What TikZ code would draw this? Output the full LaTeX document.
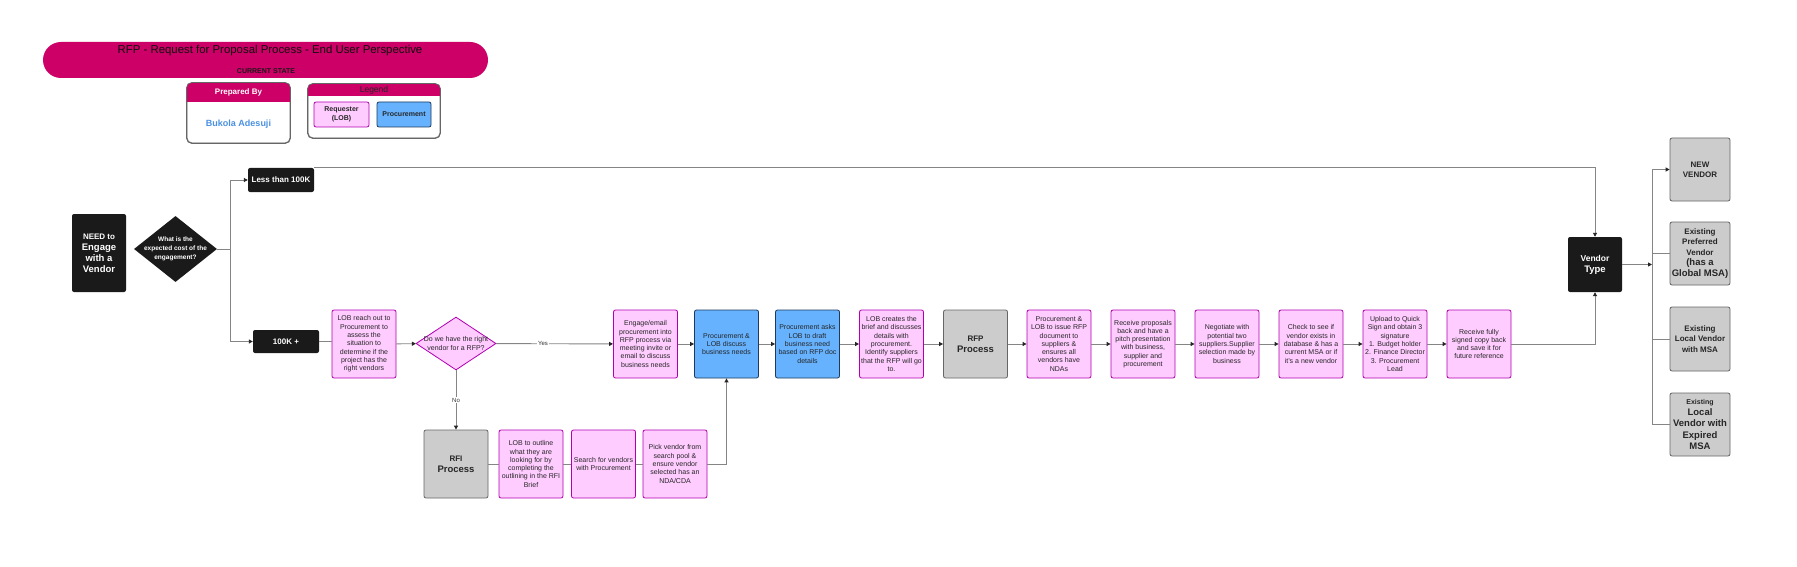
\documentclass[tikz,border=0pt]{standalone}
\usepackage{fontspec}
\setmainfont{Liberation Sans}
\usetikzlibrary{shapes.geometric,arrows.meta}
\definecolor{lobfill}{HTML}{FFCCFF}
\definecolor{lobline}{HTML}{B000B0}
\definecolor{procfill}{HTML}{66B2FF}
\definecolor{procline}{HTML}{1F3A5F}
\definecolor{grayfill}{HTML}{CCCCCC}
\definecolor{grayline}{HTML}{666666}
\definecolor{darkfill}{HTML}{1A1A1A}
\definecolor{banner}{HTML}{CC0066}
\definecolor{wire}{HTML}{858585}
\definecolor{namecol}{HTML}{4A90E2}
\begin{document}
\begin{tikzpicture}[x=1pt,y=-1pt,
 box/.style={rectangle,rounded corners=2pt,line width=0.8pt,minimum width=64pt,minimum height=68pt,inner sep=1pt,align=center,text=black!85,font=\fontsize{7}{8.3}\selectfont},
 lob/.style={box,draw=lobline,fill=lobfill},
 proc/.style={box,draw=procline,fill=procfill},
 gbox/.style={box,draw=grayline,fill=grayfill},
 dark/.style={rectangle,rounded corners=2pt,fill=darkfill,text=white,align=center,font=\bfseries\fontsize{8}{10}\selectfont},
 card/.style={rectangle,rounded corners=5pt,draw=black!60,fill=white,line width=0.8pt},
 conn/.style={draw=wire,line width=0.9pt},
 arr/.style={conn,-{Triangle[length=4pt,width=4pt,color=black!85]}},
 yesno/.style={fill=white,inner sep=1pt,font=\fontsize{6}{7}\selectfont,text=black!80}]
 \useasboundingbox[fill=white] (0,0) rectangle (1797,567);
 % header
 \node (title) at (265.5,60) [rectangle,rounded corners=18pt,fill=banner,minimum width=445pt,minimum height=36pt] {};
 \node (titletext) at (270,51) [text=black!95,font=\fontsize{11.4}{13}\selectfont] {RFP - Request for Proposal Process - End User Perspective};
 \node (state) at (266,71) [text=black!90,font=\bfseries\fontsize{7}{8}\selectfont] {CURRENT STATE};
 \node (prep) at (238.5,113) [card,minimum width=103pt,minimum height=60pt] {};
 \begin{scope}
 \clip[rounded corners=5pt] (prep.north west) rectangle (prep.south east);
 \fill[banner] (prep.north west) rectangle ([yshift=-19pt]prep.north east);
 \end{scope}
 \draw[black!60,line width=0.8pt,rounded corners=5pt] (prep.north west) rectangle (prep.south east);
 \node (prephead) at (238.5,92.5) [text=white,font=\bfseries\fontsize{8}{9}\selectfont] {Prepared By};
 \node (author) at (238.5,124) [text=namecol,font=\bfseries\fontsize{9}{10}\selectfont] {Bukola Adesuji};
 \node (legend) at (374,111) [card,minimum width=132pt,minimum height=54pt] {};
 \begin{scope}
 \clip[rounded corners=5pt] (legend.north west) rectangle (legend.south east);
 \fill[banner] (legend.north west) rectangle ([yshift=-12pt]legend.north east);
 \end{scope}
 \draw[black!60,line width=0.8pt,rounded corners=5pt] (legend.north west) rectangle (legend.south east);
 \node (legendhead) at (374,90) [text=black!85,font=\fontsize{8.5}{9}\selectfont] {Legend};
 \node (key lob) at (341.5,114.5) [lob,minimum width=55pt,minimum height=25pt,font=\bfseries\fontsize{7}{8.5}\selectfont] {Requester\\(LOB)};
 \node (key proc) at (404,114.5) [proc,minimum width=54pt,minimum height=25pt,font=\bfseries\fontsize{7}{8}\selectfont] {Procurement};
 % start and cost split
 \node (need) at (99,253) [dark,minimum width=54pt,minimum height=78pt,font=\bfseries\fontsize{9.5}{11}\selectfont] {\fontsize{8}{11}\selectfont NEED to\\Engage\\with a\\Vendor};
 \node (cost) at (175.5,249) [diamond,fill=darkfill,minimum width=83pt,minimum height=66pt,inner sep=0pt,label={[text=white,align=center,font=\bfseries\fontsize{6.5}{8.7}\selectfont]center:What is the\\expected cost of the\\engagement?}] {};
 \node (lt100) at (281,180) [dark,minimum width=66pt,minimum height=24pt] {Less than 100K};
 \node (gt100) at (286,341.5) [dark,minimum width=66pt,minimum height=23pt] {100K +};
 \node (reach) at (364,344) [lob] {LOB reach out to\\Procurement to\\assess the\\situation to\\determine if the\\project has the\\right vendors};
 \node (rightv) at (456,343.5) [diamond,draw=lobline,fill=lobfill,line width=0.8pt,minimum width=80pt,minimum height=53pt,inner sep=0pt,label={[text=black!85,align=center,font=\fontsize{7}{9.5}\selectfont]center:Do we have the right\\vendor for a RFP?}] {};
 % RFP row
 \node (main 1) at (645.5,344) [lob] {Engage/email\\procurement into\\RFP process via\\meeting invite or\\email to discuss\\business needs};
 \node (main 2) at (726.5,344) [proc] {Procurement \&\\LOB discuss\\business needs};
 \node (main 3) at (807.5,344) [proc] {Procurement asks\\LOB to draft\\business need\\based on RFP doc\\details};
 \node (main 4) at (891.5,344) [lob] {LOB creates the\\brief and discusses\\details with\\procurement.\\Identify suppliers\\that the RFP will go\\to.};
 \node (main 5) at (975.5,344) [gbox,font=\bfseries\fontsize{9.5}{11}\selectfont] {\fontsize{8}{11}\selectfont RFP\\Process};
 \node (main 6) at (1059,344) [lob] {Procurement \&\\LOB to issue RFP\\document to\\suppliers \&\\ensures all\\vendors have\\NDAs};
 \node (main 7) at (1143,344) [lob] {Receive proposals\\back and have a\\pitch presentation\\with business,\\supplier and\\procurement};
 \node (main 8) at (1227,344) [lob] {Negotiate with\\potential two\\suppliers.Supplier\\selection made by\\business};
 \node (main 9) at (1311,344) [lob] {Check to see if\\vendor exists in\\database \& has a\\current MSA or if\\it's a new vendor};
 \node (main 10) at (1395,344) [lob] {Upload to Quick\\Sign and obtain 3\\signature\\1. Budget holder\\2. Finance Director\\3. Procurement\\Lead};
 \node (main 11) at (1479,344) [lob] {Receive fully\\signed copy back\\and save it for\\future reference};
 % RFI row
 \node (rfi 1) at (456,464) [gbox,font=\bfseries\fontsize{9.5}{11}\selectfont] {\fontsize{8}{11}\selectfont RFI\\Process};
 \node (rfi 2) at (531,464) [lob] {LOB to outline\\what they are\\looking for by\\completing the\\outlining in the RFI\\Brief};
 \node (rfi 3) at (603.5,464) [lob] {Search for vendors\\with Procurement};
 \node (rfi 4) at (675,464) [lob] {Pick vendor from\\search pool \&\\ensure vendor\\selected has an\\NDA/CDA};
 % vendor types
 \node (vtype) at (1595,264.5) [dark,minimum width=54pt,minimum height=55pt,font=\bfseries\fontsize{9.5}{11}\selectfont] {\fontsize{8.5}{11}\selectfont Vendor\\Type};
 \node (opt 1) at (1700,169.5) [gbox,minimum width=60pt,minimum height=63pt,font=\bfseries\fontsize{8}{10}\selectfont] {NEW\\VENDOR};
 \node (opt 2) at (1700,253.5) [gbox,minimum width=60pt,minimum height=63pt,font=\bfseries\fontsize{8}{10.5}\selectfont] {Existing\\Preferred\\Vendor\\\fontsize{9.5}{11}\selectfont (has a\\\fontsize{9.5}{11}\selectfont Global MSA)};
 \node (opt 3) at (1700,339) [gbox,minimum width=60pt,minimum height=64pt,font=\bfseries\fontsize{8}{10.5}\selectfont] {Existing\\Local Vendor\\with MSA};
 \node (opt 4) at (1700,424.5) [gbox,minimum width=60pt,minimum height=63pt,font=\bfseries\fontsize{9.5}{11.3}\selectfont] {\fontsize{7}{9}\selectfont Existing\\Local\\Vendor with\\Expired\\MSA};
 % connectors
 \coordinate (split) at (230,249);
 \coordinate (bus) at (1652,264.5);
 \draw[conn] (cost.east) -- (split);
 \draw[arr] (split) |- (lt100.west);
 \draw[arr] (split) |- (gt100.west);
 \draw[conn] (gt100.east) -- (reach.west |- gt100.east);
 \draw[arr] (reach) -- (rightv);
 \draw[arr] (rightv) -- node[yesno,pos=0.4] {Yes} (main 1);
 \draw[arr] (rightv) -- node[yesno] {No} (rfi 1);
 \draw[conn] (rfi 1) -- (rfi 2);
 \draw[conn] (rfi 2) -- (rfi 3);
 \draw[conn] (rfi 3) -- (rfi 4);
 \draw[arr] (rfi 4.east) -| (main 2.south);
 \draw[arr] (main 1) -- (main 2);
 \draw[arr] (main 2) -- (main 3);
 \draw[arr] (main 3) -- (main 4);
 \draw[arr] (main 4) -- (main 5);
 \draw[arr] (main 5) -- (main 6);
 \draw[arr] (main 6) -- (main 7);
 \draw[arr] (main 7) -- (main 8);
 \draw[arr] (main 8) -- (main 9);
 \draw[arr] (main 9) -- (main 10);
 \draw[arr] (main 10) -- (main 11);
 \draw[arr] (lt100.north east) -| (vtype.north);
 \draw[arr] (main 11.east) -| (vtype.south);
 \draw[arr] (vtype.east) -- (bus);
 \draw[conn] (bus |- opt 1.west) -- (bus |- opt 4.west);
 \draw[arr] (bus |- opt 1.west) -- (opt 1.west);
 \draw[conn] (bus |- opt 2.west) -- (opt 2.west);
 \draw[conn] (bus |- opt 3.west) -- (opt 3.west);
 \draw[conn] (bus |- opt 4.west) -- (opt 4.west);
\end{tikzpicture}
\end{document}
